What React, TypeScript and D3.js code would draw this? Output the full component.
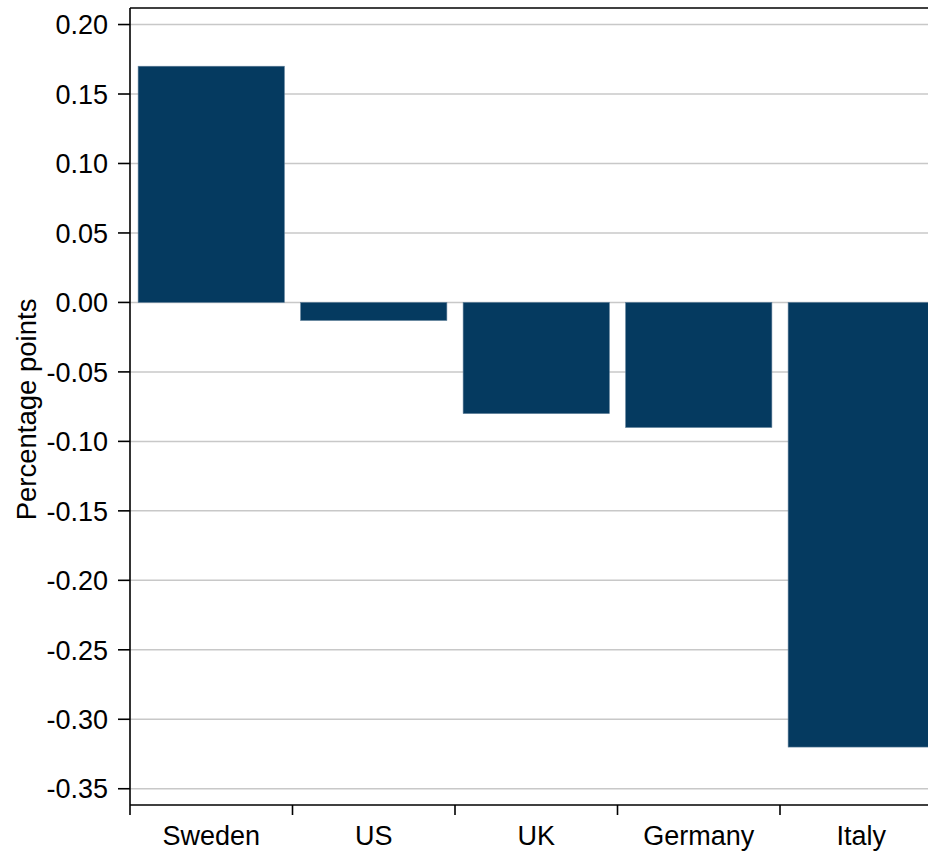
import React from "react";
import * as d3 from "d3";

const categories = ["Sweden", "US", "UK", "Germany", "Italy"];
const values = [0.17, -0.013, -0.08, -0.09, -0.32];
const yTicks = [0.2, 0.15, 0.1, 0.05, 0, -0.05, -0.1, -0.15, -0.2, -0.25, -0.3, -0.35];
const yTitle = "Percentage points";

const W = 928;
const H = 852;
const left = 130;
const right = 942.5;
const top = 8;
const bottom = 805;
const font = "'Liberation Sans', Arial, sans-serif";

export default function App() {
  const x = d3
    .scaleBand<string>()
    .domain(categories)
    .range([left, right])
    .paddingInner(0.1)
    .paddingOuter(0.05);
  const y = d3.scaleLinear().domain([-0.3617, 0.2119]).range([bottom, top]);
  const step = x.step();
  const boundaries = categories.map((c) => (x(c) as number) - step * 0.05);
  const fmt = d3.format(".2f");

  return (
    <svg
      width={W}
      height={H}
      style={{ position: "absolute", left: 0, top: 0, background: "#fff" }}
      fontFamily={font}
    >
      {yTicks.map((t) => (
        <line
          key={"g" + t}
          x1={left}
          x2={right}
          y1={y(t)}
          y2={y(t)}
          stroke="#c8c8c8"
          strokeWidth={1.5}
        />
      ))}
      {categories.map((c, i) => {
        const v = values[i];
        const y0 = y(Math.max(0, v));
        const y1 = y(Math.min(0, v));
        return (
          <rect
            key={c}
            x={x(c)}
            y={y0}
            width={x.bandwidth()}
            height={y1 - y0}
            fill="#053a60"
            stroke="#5d7d98"
            strokeWidth={0.6}
          />
        );
      })}
      <line x1={left} x2={right} y1={top} y2={top} stroke="#000" strokeWidth={1.6} />
      <line x1={left} x2={left} y1={top} y2={bottom} stroke="#000" strokeWidth={1.6} />
      <line x1={left} x2={right} y1={bottom} y2={bottom} stroke="#000" strokeWidth={1.6} />
      <line x1={right} x2={right} y1={top} y2={bottom} stroke="#000" strokeWidth={1.6} />
      {yTicks.map((t) => (
        <g key={"t" + t}>
          <line x1={left - 12} x2={left} y1={y(t)} y2={y(t)} stroke="#000" strokeWidth={1.6} />
          <text
            x={left - 22}
            y={y(t)}
            dy="0.36em"
            textAnchor="end"
            fontSize={27}
            fill="#000"
          >
            {fmt(t).replace("−", "-")}
          </text>
        </g>
      ))}
      {boundaries.map((b, i) => (
        <line key={"xt" + i} x1={b} x2={b} y1={bottom} y2={bottom + 10} stroke="#000" strokeWidth={1.6} />
      ))}
      {categories.map((c) => (
        <text
          key={"xl" + c}
          x={(x(c) as number) + x.bandwidth() / 2}
          y={845}
          textAnchor="middle"
          fontSize={27}
          fill="#000"
        >
          {c}
        </text>
      ))}
      <text
        transform={`translate(36,${y(-0.077)}) rotate(-90)`}
        textAnchor="middle"
        fontSize={27.5}
        fill="#000"
      >
        {yTitle}
      </text>
    </svg>
  );
}
